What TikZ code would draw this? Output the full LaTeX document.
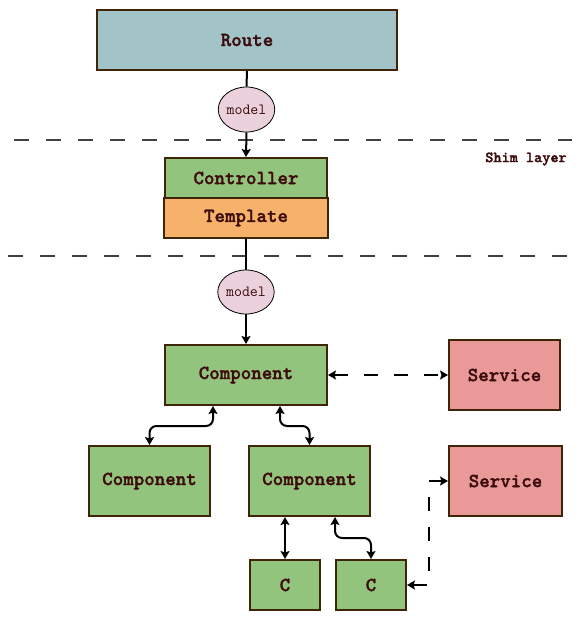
\documentclass[tikz,border=0pt]{standalone}
\usepackage{fontspec}
\newfontfamily\boldmono{lmmonolt10-bold.otf}[FakeBold=1.6]
\usetikzlibrary{shapes.geometric,arrows.meta,calc}
\definecolor{routefill}{HTML}{A2C4C9}
\definecolor{greenfill}{HTML}{93C47D}
\definecolor{orangefill}{HTML}{F6B26B}
\definecolor{redfill}{HTML}{EA9999}
\definecolor{pinkfill}{HTML}{EAD1DC}
\definecolor{edge}{HTML}{3F2508}
\definecolor{txt}{HTML}{3D0C0C}
\definecolor{sep}{HTML}{404040}
\tikzset{
  box/.style={draw=edge, line width=2pt, inner sep=0pt, text=txt,
    font=\boldmono\fontsize{20}{22}\selectfont},
  modelnode/.style={ellipse, draw=black, line width=0.8pt, fill=pinkfill, inner sep=0pt,
    minimum width=53pt, minimum height=45pt, text=txt,
    font=\ttfamily\fontsize{15.5}{18}\selectfont},
  conn/.style={line width=2pt, black},
  tip/.tip={Stealth[length=8pt,width=9pt,inset=1.5pt]},
  separator/.style={draw=sep, line width=2.8pt, dash pattern=on 15pt off 17pt},
  dashconn/.style={conn, dash pattern=on 14pt off 16pt},
}
\begin{document}
\begin{tikzpicture}[x=1pt,y=-1pt]
\useasboundingbox (0,0) rectangle (583,630);
% separators
\coordinate (s1a) at (14,140); \coordinate (s1b) at (572,140);
\coordinate (s2a) at (8,256); \coordinate (s2b) at (572,256);
\draw[separator] (s1a) -- (s1b);
\draw[separator] (s2a) -- (s2b);
\node[text=txt, font=\boldmono\fontsize{15.5}{17}\selectfont] (shim) at (526,159) {Shim layer};
% nodes
\node[box, fill=routefill, minimum width=300pt, minimum height=60pt] (route) at (247,40) {Route};
\node[modelnode] (m1) at (246.5,109.5) {model};
\node[box, fill=greenfill, minimum width=162pt, minimum height=40pt] (ctrl) at (246,178) {Controller};
\node[box, fill=orangefill, minimum width=164pt, minimum height=40pt] (tmpl) at (246,218) {Template};
\node[modelnode, minimum width=54pt, minimum height=44pt] (m2) at (246,292) {model};
\node[box, fill=greenfill, minimum width=162pt, minimum height=60pt] (comp) at (246,375) {Component};
\node[box, fill=redfill, minimum width=111pt, minimum height=70pt] (svc1) at (504.5,375) {Service};
\node[box, fill=greenfill, minimum width=121pt, minimum height=70pt] (compL) at (149.5,481) {Component};
\node[box, fill=greenfill, minimum width=121pt, minimum height=70pt] (compM) at (309.5,481) {Component};
\node[box, fill=redfill, minimum width=113pt, minimum height=70pt] (svc2) at (505.5,481) {Service};
\node[box, fill=greenfill, minimum width=70pt, minimum height=50pt] (c1) at (285,585) {C};
\node[box, fill=greenfill, minimum width=70pt, minimum height=50pt] (c2) at (371,585) {C};
% connectors
\draw[conn] (route.south) -- (m1.north);
\draw[conn,-tip] (m1.south) -- (ctrl.north);
\draw[conn] (tmpl.south) -- (m2.north);
\draw[conn,-tip] (m2.south) -- (comp.north);
\draw[dashconn,tip-tip] (comp.east) -- (svc1.west);
\draw[conn,tip-tip,rounded corners=7pt] ([xshift=-33pt]comp.south) -- ++(0,20) -| (compL.north);
\draw[conn,tip-tip,rounded corners=7pt] ([xshift=34pt]comp.south) -- ++(0,20) -| (compM.north);
\draw[conn,tip-tip] ([xshift=-24.5pt]compM.south) -- (c1.north);
\draw[conn,tip-tip,rounded corners=7pt] ([xshift=25.5pt]compM.south) -- ++(0,21) -| (c2.north);
\draw[dashconn,tip-tip] (c2.east) -- ++(22,0) |- (svc2.west);
\end{tikzpicture}
\end{document}
